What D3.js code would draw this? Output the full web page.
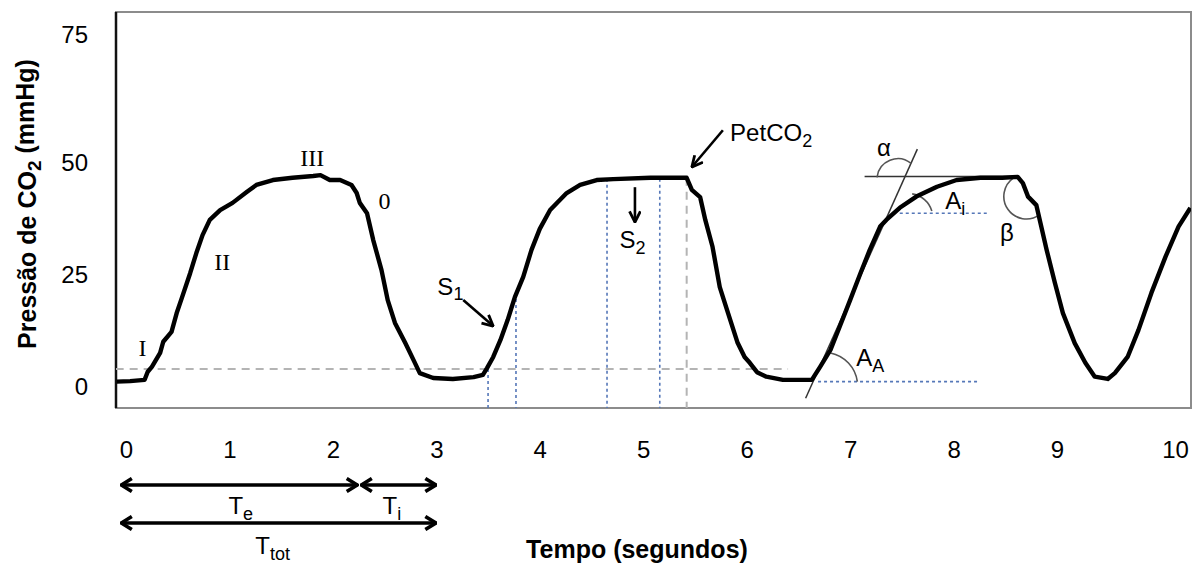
<!DOCTYPE html>
<html>
<head>
<meta charset="utf-8">
<script src="https://cdn.jsdelivr.net/npm/d3@7"></script>
<style>
  html, body { margin: 0; padding: 0; background: #fff; }
  svg { display: block; font-family: "Liberation Sans", Arial, sans-serif; }
</style>
</head>
<body>
<svg id="chart" width="1199" height="574"></svg>
<script>
// Capnogram: CO2 partial pressure over time (s, mmHg)
const timeSec = [-0.09, 0.04, 0.18, 0.21, 0.25, 0.33, 0.36, 0.44, 0.49, 0.54, 0.62, 0.68, 0.74, 0.81, 0.91,
  1.03, 1.17, 1.26, 1.42, 1.61, 1.81, 1.88, 1.97, 2.07, 2.18, 2.23, 2.26, 2.33, 2.39, 2.47, 2.53, 2.60,
  2.70, 2.78, 2.84, 2.97, 3.16, 3.36, 3.45, 3.49, 3.55, 3.62, 3.69, 3.76, 3.84, 3.92, 4.00, 4.10, 4.26,
  4.39, 4.55, 4.71, 5.07, 5.42, 5.47, 5.55, 5.60, 5.67, 5.74, 5.81, 5.91, 5.98, 6.03, 6.10, 6.19, 6.35,
  6.63, 6.71, 6.81, 6.90, 7.00, 7.10, 7.19, 7.29, 7.35, 7.48, 7.64, 7.84, 8.03, 8.26, 8.47, 8.62, 8.67,
  8.72, 8.80, 8.84, 8.90, 8.98, 9.05, 9.15, 9.24, 9.32, 9.43, 9.49, 9.60, 9.69, 9.80, 9.92, 10.03, 10.13];
const co2mmHg = [1.2, 1.3, 1.6, 3.4, 4.5, 7.6, 10.1, 12.3, 16.5, 19.9, 25.4, 29.9, 33.9, 37.3, 39.5,
  41.1, 43.6, 45.1, 46.2, 46.7, 47.1, 47.3, 46.2, 46.2, 45.1, 43.3, 41.1, 38.8, 32.8, 26.1, 19.4, 14.3,
  9.8, 6.0, 3.1, 2.0, 1.8, 2.2, 2.7, 4.2, 6.7, 10.5, 15.0, 20.1, 24.6, 30.6, 35.3, 39.5, 43.3,
  45.1, 46.2, 46.4, 46.7, 46.7, 44.0, 42.4, 37.3, 31.3, 22.3, 17.2, 10.0, 6.7, 5.4, 3.3, 2.3, 1.6,
  1.6, 4.5, 8.3, 13.5, 19.4, 25.4, 30.6, 35.8, 37.3, 40.0, 42.5, 44.7, 46.2, 46.7, 46.7, 46.9, 45.5,
  42.5, 40.6, 36.6, 30.6, 23.2, 16.5, 9.8, 5.4, 2.3, 1.8, 3.1, 6.8, 12.7, 21.0, 29.1, 35.8, 40.0];

const xTicks = [0, 1, 2, 3, 4, 5, 6, 7, 8, 9, 10];
const yTicks = [0, 25, 50, 75];

// Reference lines: baseline CO2 level and measurement marks
const baselineCO2 = 4;
const baselineSpan = [-0.1, 6.4];
const petTime = 5.42;
const petLevel = 46.7;
const slopeMarks = [ { t: 3.50, top: 4 }, { t: 3.77, top: 21 }, { t: 4.65, top: 46.5 }, { t: 5.16, top: 46.5 } ];

// Phase labels
const phaseLabels = [
  { text: "I",   t: 0.16, v: 8.9 },
  { text: "II",  t: 0.93, v: 27.9 },
  { text: "III", t: 1.80, v: 51.0 },
  { text: "0",   t: 2.50, v: 41.7 }
];

// Third cycle geometry: tangent of phase II, plateau line, angle references
const tangentLine = [[6.57, -2.5], [7.65, 52.7]];
const plateauLine = [[7.14, 47.0], [8.59, 47.0]];
const aiLine = [[7.48, 38.8], [8.33, 38.8]];
const aaLine = [[6.69, 1.2], [8.23, 1.2]];

// Angle arcs: start point, end point (data units), radius (px), large-arc, sweep
const angleArcs = [
  { from: [7.26, 46.8], to: [7.59, 49.9], r: 21, large: 0, sweep: 1 },   // alpha
  { from: [7.60, 43.1], to: [7.79, 39.3], r: 24, large: 0, sweep: 1 },   // Ai
  { from: [6.81, 7.6],  to: [7.07, 1.2],  r: 34, large: 0, sweep: 1 },   // AA
  { from: [8.58, 46.7], to: [8.83, 38.4], r: 22, large: 1, sweep: 0 }    // beta
];

// Text annotations with optional subscript
const notes = [
  { main: "S", sub: "1", t: 3.01, v: 22.5 },
  { main: "S", sub: "2", t: 4.77, v: 32.8 },
  { main: "PetCO", sub: "2", t: 5.84, v: 55.9 },
  { main: "A", sub: "i", t: 7.92, v: 41.5 },
  { main: "A", sub: "A", t: 7.06, v: 6.5 },
  { main: "α", sub: "", t: 7.26, v: 53.1 },
  { main: "β", sub: "", t: 8.45, v: 34.4 }
];
const pointerArrows = [
  { from: [3.26, 19.4], to: [3.55, 13.6] },
  { from: [4.92, 44.6], to: [4.92, 36.8] },
  { from: [5.77, 56.4], to: [5.47, 49.1] }
];

// Respiratory timing spans (s)
const timeSpans = [
  { from: -0.05, to: 2.24, row: 0, main: "T", sub: "e", labelT: 0.99 },
  { from: 2.27, to: 3.0, row: 0, main: "T", sub: "i", labelT: 2.48 },
  { from: -0.05, to: 3.0, row: 1, main: "T", sub: "tot", labelT: 1.25 }
];

const svg = d3.select("#chart");
const frame = { left: 116, right: 1191, top: 12, bottom: 408 };

const x = d3.scaleLinear().domain([0, 9, 10]).range([126, 1057, 1175]);
const y = d3.scaleLinear().domain([0, 50, 75]).range([387, 163, 35]);

const defs = svg.append("defs");
defs.append("clipPath").attr("id", "plotClip")
  .append("rect").attr("x", frame.left).attr("y", frame.top)
  .attr("width", frame.right - frame.left).attr("height", frame.bottom - frame.top);

defs.append("marker").attr("id", "headThin")
  .attr("viewBox", "0 0 12 12").attr("refX", 11).attr("refY", 6)
  .attr("markerWidth", 13).attr("markerHeight", 13).attr("markerUnits", "userSpaceOnUse")
  .attr("orient", "auto-start-reverse")
  .append("path").attr("d", "M1,1 L11,6 L1,11").attr("fill", "none")
  .attr("stroke", "#000").attr("stroke-width", 2.6).attr("stroke-linejoin", "miter");

defs.append("marker").attr("id", "headBold")
  .attr("viewBox", "0 0 14 16").attr("refX", 13).attr("refY", 8)
  .attr("markerWidth", 14).attr("markerHeight", 16).attr("markerUnits", "userSpaceOnUse")
  .attr("orient", "auto-start-reverse")
  .append("path").attr("d", "M2,1.5 L12.5,8 L2,14.5").attr("fill", "none")
  .attr("stroke", "#000").attr("stroke-width", 3.6);

// Frame
svg.append("rect")
  .attr("x", frame.left).attr("y", frame.top)
  .attr("width", frame.right - frame.left).attr("height", frame.bottom - frame.top)
  .attr("fill", "#fff").attr("stroke", "#8c8c8c").attr("stroke-width", 2);
svg.append("line")
  .attr("x1", frame.left).attr("x2", frame.left).attr("y1", frame.top).attr("y2", frame.bottom)
  .attr("stroke", "#111").attr("stroke-width", 2.5);

const plot = svg.append("g").attr("clip-path", "url(#plotClip)");

// Baseline and end-tidal reference (gray dashed)
plot.append("line")
  .attr("x1", x(baselineSpan[0])).attr("x2", x(baselineSpan[1]))
  .attr("y1", y(baselineCO2)).attr("y2", y(baselineCO2))
  .attr("stroke", "#b4b4b4").attr("stroke-width", 2).attr("stroke-dasharray", "8,6");
plot.append("line")
  .attr("x1", x(petTime)).attr("x2", x(petTime))
  .attr("y1", y(petLevel)).attr("y2", frame.bottom)
  .attr("stroke", "#b4b4b4").attr("stroke-width", 2).attr("stroke-dasharray", "8,6");

// Slope measurement marks (blue dotted)
plot.selectAll("line.mark").data(slopeMarks).join("line").attr("class", "mark")
  .attr("x1", d => x(d.t)).attr("x2", d => x(d.t))
  .attr("y1", d => y(d.top)).attr("y2", frame.bottom)
  .attr("stroke", "#5577b8").attr("stroke-width", 1.6).attr("stroke-dasharray", "3,3");
[aiLine, aaLine].forEach(seg => {
  plot.append("line")
    .attr("x1", x(seg[0][0])).attr("x2", x(seg[1][0]))
    .attr("y1", y(seg[0][1])).attr("y2", y(seg[1][1]))
    .attr("stroke", "#5577b8").attr("stroke-width", 1.6).attr("stroke-dasharray", "3,3");
});

// Tangent and plateau lines
[tangentLine, plateauLine].forEach(seg => {
  plot.append("line")
    .attr("x1", x(seg[0][0])).attr("x2", x(seg[1][0]))
    .attr("y1", y(seg[0][1])).attr("y2", y(seg[1][1]))
    .attr("stroke", "#333").attr("stroke-width", 1.5);
});

// Angle arcs
plot.selectAll("path.angle").data(angleArcs).join("path").attr("class", "angle")
  .attr("d", d => `M${x(d.from[0])},${y(d.from[1])} A${d.r},${d.r} 0 ${d.large} ${d.sweep} ${x(d.to[0])},${y(d.to[1])}`)
  .attr("fill", "none").attr("stroke", "#555").attr("stroke-width", 1.6);

// CO2 trace
const series = timeSec.map((t, i) => [t, co2mmHg[i]]);
plot.append("path").datum(series)
  .attr("d", d3.line().x(d => x(d[0])).y(d => y(d[1])).curve(d3.curveLinear))
  .attr("fill", "none").attr("stroke", "#000").attr("stroke-width", 4.4)
  .attr("stroke-linejoin", "round");

// Phase numerals
svg.selectAll("text.phase").data(phaseLabels).join("text").attr("class", "phase")
  .attr("x", d => x(d.t)).attr("y", d => y(d.v)).attr("dy", "0.35em")
  .attr("text-anchor", "middle")
  .style("font-family", "'Liberation Serif', 'Times New Roman', serif")
  .style("font-size", "24px").text(d => d.text);

// Pointer arrows
svg.selectAll("line.pointer").data(pointerArrows).join("line").attr("class", "pointer")
  .attr("x1", d => x(d.from[0])).attr("y1", d => y(d.from[1]))
  .attr("x2", d => x(d.to[0])).attr("y2", d => y(d.to[1]))
  .attr("stroke", "#000").attr("stroke-width", 2.6).attr("marker-end", "url(#headThin)");

// Annotation text
const noteText = svg.selectAll("text.note").data(notes).join("text").attr("class", "note")
  .attr("x", d => x(d.t)).attr("y", d => y(d.v)).attr("dy", "0.35em")
  .style("font-size", "24px");
noteText.append("tspan").text(d => d.main);
noteText.filter(d => d.sub).append("tspan")
  .attr("dy", "0.3em").style("font-size", "18px").text(d => d.sub);

// Axes
const xAxis = svg.append("g").attr("transform", `translate(0,${frame.bottom})`)
  .call(d3.axisBottom(x).tickValues(xTicks).tickSize(0).tickPadding(33).tickFormat(d3.format("d")));
xAxis.select(".domain").remove();
xAxis.selectAll("text").style("font-size", "24px").style("font-family", "'Liberation Sans', Arial, sans-serif").attr("fill", "#000");

const yAxis = svg.append("g").attr("transform", `translate(${frame.left},0)`)
  .call(d3.axisLeft(y).tickValues(yTicks).tickSize(0).tickPadding(28).tickFormat(d3.format("d")));
yAxis.select(".domain").remove();
yAxis.selectAll("text").style("font-size", "24px").style("font-family", "'Liberation Sans', Arial, sans-serif").attr("fill", "#000");

// Timing spans below the axis
const spanRows = [485, 523];
const labelRows = [506, 546];
svg.selectAll("line.span").data(timeSpans).join("line").attr("class", "span")
  .attr("x1", d => x(d.from)).attr("x2", d => x(d.to))
  .attr("y1", d => spanRows[d.row]).attr("y2", d => spanRows[d.row])
  .attr("stroke", "#000").attr("stroke-width", 3.6)
  .attr("marker-start", "url(#headBold)").attr("marker-end", "url(#headBold)");
const spanText = svg.selectAll("text.spanlabel").data(timeSpans).join("text").attr("class", "spanlabel")
  .attr("x", d => x(d.labelT)).attr("y", d => labelRows[d.row]).attr("dy", "0.35em")
  .style("font-size", "24px");
spanText.append("tspan").text(d => d.main);
spanText.append("tspan").attr("dy", "0.3em").style("font-size", "18px").text(d => d.sub);

// Axis titles
svg.append("text")
  .attr("x", 637).attr("y", 549).attr("dy", "0.35em")
  .attr("text-anchor", "middle").style("font-size", "25px").style("font-weight", "bold")
  .text("Tempo (segundos)");

const yTitle = svg.append("text")
  .attr("transform", "translate(27,204) rotate(-90)")
  .attr("text-anchor", "middle").attr("dy", "0.35em")
  .style("font-size", "25px").style("font-weight", "bold");
yTitle.append("tspan").text("Pressão de CO");
yTitle.append("tspan").attr("dy", "0.3em").style("font-size", "19px").text("2");
yTitle.append("tspan").attr("dy", "-0.3em").text(" (mmHg)");
</script>
</body>
</html>
